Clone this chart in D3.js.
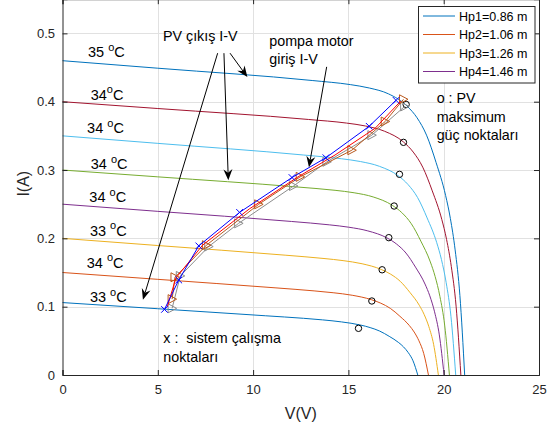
<!DOCTYPE html>
<html>
<head>
<meta charset="utf-8">
<script src="https://cdn.jsdelivr.net/npm/d3@7"></script>
<style>
  body { margin: 0; background: #fff; }
  text { font-family: "Liberation Sans", Arial, sans-serif; }
</style>
</head>
<body>
<svg id="chart" width="551" height="428"></svg>
<script>
// ---- PV module I-V curves, [V (volt), I (amp)], bottom to top ----
const pv1 = [[0,.106],[5,.097],[10.64,.0867],[12.64,.083],[13.64,.0807],[14.64,.0777],[15.64,.0731],[16.14,.0694],[16.64,.0643],[17.14,.0566],[17.64,.0474],[17.89,.0412],[18.14,.0328],[18.39,.0208],[18.64,0]];
const pv2 = [[0,.15],[5,.14],[11.2,.1275],[13.2,.1231],[14.2,.1204],[15.2,.1167],[16.2,.1103],[16.7,.1051],[17.2,.0975],[17.7,.086],[18.2,.0723],[18.45,.0629],[18.7,.0501],[18.95,.0317],[19.2,0]];
const pv3 = [[0,.20],[5,.1895],[11.72,.1753],[13.72,.1705],[14.72,.1674],[15.72,.1628],[16.72,.1545],[17.22,.1475],[17.72,.1371],[18.22,.1211],[18.72,.102],[18.97,.0888],[19.22,.0708],[19.47,.0449],[19.72,0]];
const pv4 = [[0,.25],[5,.2395],[12.02,.2247],[14.02,.2197],[15.02,.2163],[16.02,.2109],[17.02,.2007],[17.52,.1918],[18.02,.1785],[18.52,.1579],[19.02,.1331],[19.27,.1159],[19.52,.0925],[19.77,.0587],[20.02,0]];
const pv5 = [[0,.30],[5,.29],[12.3,.2752],[14.3,.2703],[15.3,.2667],[16.3,.2606],[17.3,.2484],[17.8,.2377],[18.3,.2214],[18.8,.196],[19.3,.1654],[19.55,.1442],[19.8,.1151],[20.05,.0731],[20.3,0]];
const pv6 = [[0,.35],[5,.339],[12.63,.322],[14.63,.3165],[15.63,.3124],[16.63,.3054],[17.63,.2913],[18.13,.2787],[18.63,.2597],[19.13,.2299],[19.63,.1941],[19.88,.1692],[20.13,.1351],[20.38,.0859],[20.63,0]];
const pv7 = [[0,.40],[5,.39],[12.9,.374],[14.9,.3687],[15.9,.3644],[16.9,.3567],[17.9,.3408],[18.4,.3263],[18.9,.3042],[19.4,.2695],[19.9,.2277],[20.15,.1985],[20.4,.1586],[20.65,.1008],[20.9,0]];
const pv8 = [[0,.46],[5,.449],[13.1,.431],[15.1,.425],[16.1,.420],[17.1,.4115],[18.1,.393],[18.6,.3765],[19.1,.351],[19.6,.311],[20.1,.2628],[20.35,.2291],[20.6,.1831],[20.85,.1163],[21.1,0]];
const pvCurves = [pv1, pv2, pv3, pv4, pv5, pv6, pv7, pv8];
const pvColors = ["#0072BD","#D95319","#EDB120","#7E2F8E","#77AC30","#4DBEEE","#A2142F","#0072BD"];

// cell temperature labels for each curve (value, gap before degree sign)
const tempValues = ["33","34","33","34","34","34","34","35"];
const tempGap    = [" "," "," "," "," "," ","",  " "];
const tempLabelV = [1.44,1.27,1.44,1.41,1.48,1.29,1.48,1.34];
const tempLabelI = [0.1064,0.157,0.2039,0.2527,0.301,0.354,0.4025,0.4654];

// PV maximum power points
const mppV = [15.53,16.23,16.77,17.12,17.40,17.68,17.89,18.03];
const mppI = [0.0683,0.1083,0.154,0.201,0.2473,0.2937,0.3405,0.396];

// pump motor input I-V (operating points)
const pumpBlueV  = [5.35,6.10,7.15,9.29,12.04,13.82,16.09,17.50];
const pumpBlueI  = [0.096,0.139,0.189,0.238,0.289,0.318,0.364,0.402];
const pumpRedV   = [5.50,5.95,7.35,9.80,12.30,14.30,16.40,17.75];
const pumpRedI   = [0.100,0.142,0.190,0.243,0.289,0.322,0.361,0.401];
const pumpBrownV = [5.75,5.90,7.55,10.29,12.47,15.18,16.93,17.89];
const pumpBrownI = [0.111,0.143,0.190,0.2498,0.290,0.329,0.371,0.4035];
const pumpGrayV  = [5.75,6.18,7.67,9.24,12.12,13.87,16.23,17.95];
const pumpGrayI  = [0.0976,0.145,0.188,0.222,0.2766,0.312,0.351,0.393];

// legend
const legendLabels = ["Hp1=0.86 m","Hp2=1.06 m","Hp3=1.26 m","Hp4=1.46 m"];

// axis ticks
const vTicks = [0,5,10,15,20,25];
const iTicks = [0,0.1,0.2,0.3,0.4,0.5];

const svg = d3.select("#chart");
const x = d3.scaleLinear().domain([0,25]).range([62.5,539]);
const y = d3.scaleLinear().domain([0,0.55]).range([375,-0.8]);
const axisColor = "#262626";

// grid
const grid = svg.append("g").attr("stroke","#e1e1e1").attr("stroke-width",1);
vTicks.slice(1,-1).forEach(v => grid.append("line")
  .attr("x1",Math.round(x(v))+0.5).attr("x2",Math.round(x(v))+0.5)
  .attr("y1",y(0.55)).attr("y2",y(0)));
iTicks.slice(1).forEach(i => grid.append("line")
  .attr("x1",x(0)).attr("x2",x(25))
  .attr("y1",Math.round(y(i))+0.5).attr("y2",Math.round(y(i))+0.5));

// PV curves
const line = d3.line().x(d => x(d[0])).y(d => y(d[1])).curve(d3.curveMonotoneX);
pvCurves.forEach((c,k) => svg.append("path").datum(c)
  .attr("d",line).attr("fill","none").attr("stroke",pvColors[k]).attr("stroke-width",1));

// MPP circles
mppV.forEach((v,k) => svg.append("circle")
  .attr("cx",x(v)).attr("cy",y(mppI[k])).attr("r",3.2)
  .attr("fill","none").attr("stroke","#000").attr("stroke-width",1));

// pump curves
const pl = d3.line().x(d => x(d[0])).y(d => y(d[1]));
function zip(a,b){ return a.map((v,k)=>[v,b[k]]); }
function triRight(g, pts, color){
  pts.forEach(p => {
    const cx = x(p[0]), cy = y(p[1]);
    g.append("path").attr("d",`M${cx-4},${cy-4.5}L${cx+4.5},${cy}L${cx-4},${cy+4.5}Z`)
      .attr("fill","none").attr("stroke",color).attr("stroke-width",1);
  });
}
const gPump = svg.append("g");
const gray = zip(pumpGrayV,pumpGrayI), brown = zip(pumpBrownV,pumpBrownI);
const red = zip(pumpRedV,pumpRedI), blue = zip(pumpBlueV,pumpBlueI);
gPump.append("path").datum(gray).attr("d",pl).attr("fill","none").attr("stroke","#8c8c8c").attr("stroke-width",1);
triRight(gPump, gray, "#8c8c8c");
gPump.append("path").datum(brown).attr("d",pl).attr("fill","none").attr("stroke","#B9581C").attr("stroke-width",1);
triRight(gPump, brown, "#B9581C");
gPump.append("path").datum(red).attr("d",pl).attr("fill","none").attr("stroke","#FF0000").attr("stroke-width",1);
gPump.append("path").datum(blue).attr("d",pl).attr("fill","none").attr("stroke","#0000FF").attr("stroke-width",1);
blue.forEach(p => {
  const cx = x(p[0]), cy = y(p[1]), s = 3.3;
  gPump.append("path").attr("d",`M${cx-s},${cy-s}L${cx+s},${cy+s}M${cx-s},${cy+s}L${cx+s},${cy-s}`)
    .attr("stroke","#0000FF").attr("stroke-width",1);
});

// axes (inward ticks on all four sides)
function styleAxis(g){
  g.selectAll("path").attr("stroke",axisColor);
  g.selectAll("line").attr("stroke",axisColor);
  g.selectAll("text").attr("fill",axisColor).style("font-size","13px")
    .style("font-family",'"Liberation Sans", Arial, sans-serif');
}
svg.append("g").attr("transform",`translate(0,${y(0)})`)
  .call(d3.axisBottom(x).tickValues(vTicks).tickSize(-5).tickPadding(10).tickFormat(d3.format("d")))
  .call(styleAxis);
svg.append("g").attr("transform",`translate(${x(0)},0)`)
  .call(d3.axisLeft(y).tickValues(iTicks).tickSize(-5).tickPadding(7.5).tickFormat(d => d === 0 ? "0" : d3.format(".1f")(d)))
  .call(styleAxis);
svg.append("g").attr("transform",`translate(${x(25)},0)`)
  .call(d3.axisRight(y).tickValues(iTicks).tickSize(-5).tickFormat(""))
  .call(styleAxis);
svg.append("g").attr("transform",`translate(0,${y(0.55)})`)
  .call(d3.axisTop(x).tickValues(vTicks).tickSize(-5).tickFormat(""))
  .call(styleAxis);
svg.selectAll(".domain").attr("stroke-width",1);

// axis titles
svg.append("text").attr("x",(x(0)+x(25))/2).attr("y",419).attr("text-anchor","middle")
  .style("font-size","16px").attr("fill",axisColor).text("V(V)");
svg.append("text").attr("transform",`translate(29,${y(0.28)}) rotate(-90)`).attr("text-anchor","middle")
  .style("font-size","16px").attr("fill",axisColor).text("I(A)");

// temperature labels
tempValues.forEach((t,k) => {
  const tx = svg.append("text").attr("x",x(tempLabelV[k])).attr("y",y(tempLabelI[k]))
    .style("font-size","14.5px").style("white-space","pre").attr("fill","#000");
  tx.append("tspan").text(t + tempGap[k]);
  tx.append("tspan").attr("dy",-6.5).style("font-size","11px").text("o");
  tx.append("tspan").attr("dy",6.5).text("C");
});

// annotation texts
function note(v,i,str){
  svg.append("text").attr("x",x(v)).attr("y",y(i)).style("font-size","14.3px")
    .style("white-space","pre").attr("fill","#000").text(str);
}
note(5.27,0.4892,"PV çıkış I-V");
note(10.85,0.481,"pompa motor");
note(10.85,0.4547,"giriş I-V");
note(19.63,0.3985,"o : PV");
note(19.63,0.3707,"maksimum");
note(19.63,0.3439,"güç noktaları");
note(5.29,0.0464,"x :  sistem çalışma");
note(5.29,0.0195,"noktaları");

// arrows
const arrowFromV = [8.14,8.47,8.79,13.86];
const arrowFromI = [0.471,0.471,0.471,0.451];
const arrowToV   = [4.22,8.70,9.70,12.93];
const arrowToI   = [0.110,0.285,0.436,0.304];
arrowFromV.forEach((v,k) => {
  const x1 = x(v), y1 = y(arrowFromI[k]), x2 = x(arrowToV[k]), y2 = y(arrowToI[k]);
  const dx = x2-x1, dy = y2-y1, L = Math.hypot(dx,dy), ux = dx/L, uy = dy/L, nx = -uy, ny = ux;
  const hl = 11, hw = 4.5, notch = 3.5;
  svg.append("line").attr("x1",x1).attr("y1",y1).attr("x2",x2-ux*(hl-notch)).attr("y2",y2-uy*(hl-notch))
    .attr("stroke","#000").attr("stroke-width",1);
  svg.append("path").attr("d",
    `M${x2},${y2}L${x2-ux*hl+nx*hw},${y2-uy*hl+ny*hw}L${x2-ux*(hl-notch)},${y2-uy*(hl-notch)}L${x2-ux*hl-nx*hw},${y2-uy*hl-ny*hw}Z`)
    .attr("fill","#000");
});

// legend
const lg = svg.append("g");
lg.append("rect").attr("x",418.5).attr("y",6.5).attr("width",116.5).attr("height",76.5)
  .attr("fill","#fff").attr("stroke",axisColor).attr("stroke-width",1);
legendLabels.forEach((s,k) => {
  const ly = 16 + k*18.5;
  lg.append("line").attr("x1",423).attr("x2",455).attr("y1",ly).attr("y2",ly)
    .attr("stroke",pvColors[k]).attr("stroke-width",1);
  lg.append("text").attr("x",459).attr("y",ly+4.5).style("font-size","12.5px").attr("fill","#000").text(s);
});
</script>
</body>
</html>
